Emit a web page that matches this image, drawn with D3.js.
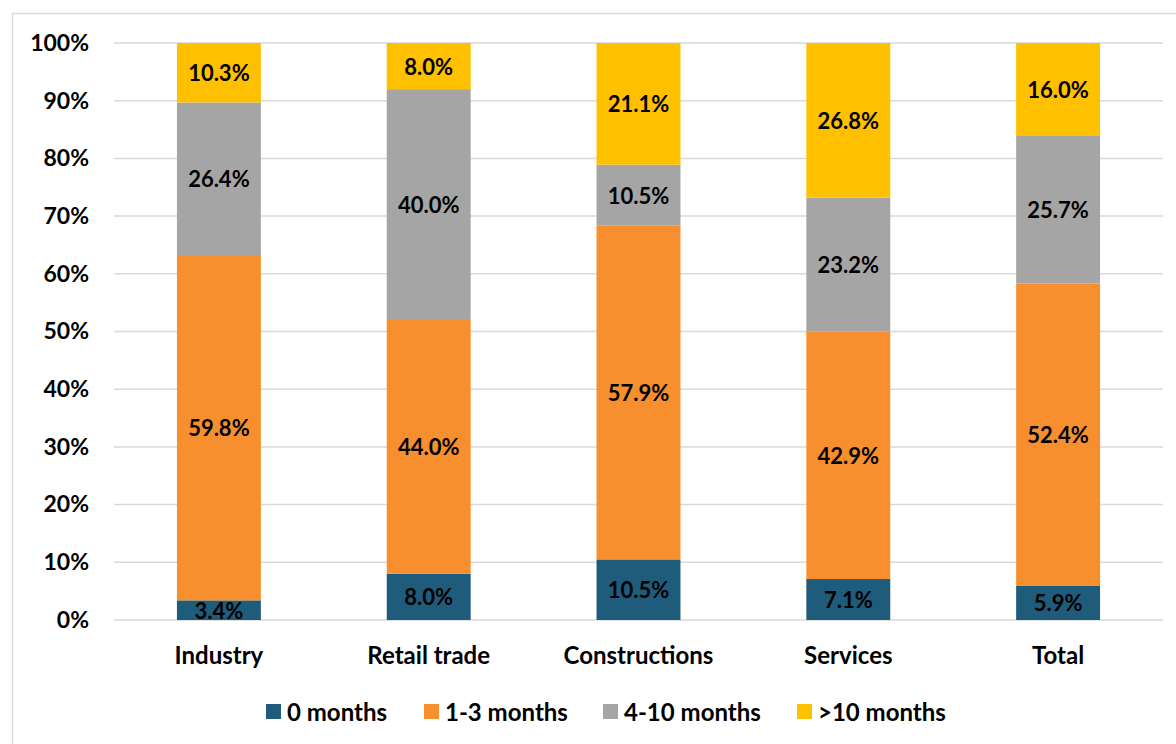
<!DOCTYPE html>
<html>
<head>
<meta charset="utf-8">
<script src="https://cdn.jsdelivr.net/npm/d3@7"></script>
<style>
  html, body { margin: 0; padding: 0; background: #fff; }
  svg { display: block; }
  text { font-family: Lato, "Open Sans", sans-serif; font-weight: 700; fill: #000; }
</style>
</head>
<body>
<svg id="chart" width="1176" height="744"></svg>
<script>
// Sectors and duration groups
const categories = ["Industry", "Retail trade", "Constructions", "Services", "Total"];
const seriesNames = ["0 months", "1-3 months", "4-10 months", ">10 months"];
const seriesColors = ["#1f5b7a", "#f78f2e", "#a5a5a5", "#ffc000"];

// Share of firms (%) per sector for each duration group
const months0 = [3.4, 8.0, 10.5, 7.1, 5.9];
const months1to3 = [59.8, 44.0, 57.9, 42.9, 52.4];
const months4to10 = [26.4, 40.0, 10.5, 23.2, 25.7];
const monthsOver10 = [10.3, 8.0, 21.1, 26.8, 16.0];

const yTicks = [0, 0.1, 0.2, 0.3, 0.4, 0.5, 0.6, 0.7, 0.8, 0.9, 1.0];

const seriesValues = [months0, months1to3, months4to10, monthsOver10];
const rows = categories.map((c, i) => {
  const r = { category: c };
  seriesNames.forEach((s, j) => { r[s] = seriesValues[j][i]; });
  return r;
});

const svg = d3.select("#chart");

// Outer chart frame
svg.append("rect")
  .attr("x", 12.5).attr("y", 13.5)
  .attr("width", 1180).attr("height", 760)
  .attr("fill", "none").attr("stroke", "#d9d9d9").attr("stroke-width", 1.5);

const plotLeft = 114, plotRight = 1163, plotTop = 43, plotBottom = 620;

const x = d3.scaleBand().domain(categories).range([plotLeft, plotRight]).paddingInner(0.6).paddingOuter(0.3);
const y = d3.scaleLinear().domain([0, 1]).range([plotBottom, plotTop]);

// Gridlines
svg.append("g")
  .selectAll("line")
  .data(yTicks)
  .join("line")
  .attr("x1", plotLeft).attr("x2", plotRight)
  .attr("y1", d => y(d)).attr("y2", d => y(d))
  .attr("stroke", "#d9d9d9").attr("stroke-width", 1.5);

// Y axis labels
const yAxis = d3.axisLeft(y).tickValues(yTicks).tickFormat(d3.format(".0%")).tickSize(0).tickPadding(25);
const yg = svg.append("g").attr("transform", `translate(${plotLeft},0)`).call(yAxis);
yg.select(".domain").remove();
yg.selectAll("text").style("font-size", "23px").attr("fill", "#000");

// Stacked bars (100% stacked)
const stack = d3.stack().keys(seriesNames).offset(d3.stackOffsetExpand);
const layers = stack(rows);

const layerG = svg.append("g")
  .selectAll("g")
  .data(layers)
  .join("g")
  .attr("fill", (d, i) => seriesColors[i]);

layerG.selectAll("rect")
  .data(d => d)
  .join("rect")
  .attr("x", d => x(d.data.category))
  .attr("width", x.bandwidth())
  .attr("y", d => y(d[1]))
  .attr("height", d => y(d[0]) - y(d[1]));

// Value labels
layerG.selectAll("text")
  .data((d) => d.map(p => ({ p, key: d.key })))
  .join("text")
  .attr("x", d => x(d.p.data.category) + x.bandwidth() / 2)
  .attr("y", d => y((d.p[0] + d.p[1]) / 2))
  .attr("text-anchor", "middle")
  .attr("dominant-baseline", "central")
  .attr("fill", "#000")
  .style("font-size", "22px")
  .text(d => d.p.data[d.key].toFixed(1) + "%");

// Category axis
const xAxis = d3.axisBottom(x).tickSize(0).tickPadding(27);
const xg = svg.append("g").attr("transform", `translate(0,${plotBottom})`).call(xAxis);
xg.select(".domain").remove();
xg.selectAll("text").style("font-size", "24px").attr("fill", "#000");

// Legend
const legendX = [266, 424, 603, 797];
const legend = svg.append("g")
  .selectAll("g")
  .data(seriesNames)
  .join("g")
  .attr("transform", (d, i) => `translate(${legendX[i]},711.5)`);
legend.append("rect")
  .attr("x", 0).attr("y", -7.5).attr("width", 15).attr("height", 15)
  .attr("fill", (d, i) => seriesColors[i]);
legend.append("text")
  .attr("x", 21).attr("y", 0)
  .attr("dominant-baseline", "central")
  .style("font-size", "24px")
  .text(d => d);
</script>
</body>
</html>
